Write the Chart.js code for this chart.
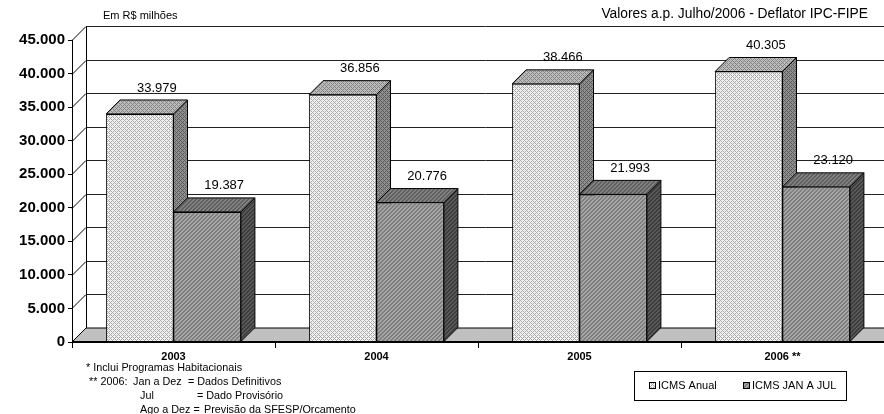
<!DOCTYPE html>
<html>
<head>
<meta charset="utf-8">
<script src="https://cdn.jsdelivr.net/npm/chart.js@4.4.0/dist/chart.umd.min.js"></script>
<style>
  html, body { margin: 0; padding: 0; background: #fff; }
  #wrap { width: 884px; height: 414px; position: relative; }
</style>
</head>
<body>
<div id="wrap"><canvas id="chart" width="884" height="414"></canvas></div>
<script>
const categories = ['2003', '2004', '2005', '2006 **'];
const icmsAnual = [33979, 36856, 38466, 40305];
const icmsJanJul = [19387, 20776, 21993, 23120];
const seriesNames = ['ICMS Anual', 'ICMS JAN A JUL'];
const yTicks = [0, 5000, 10000, 15000, 20000, 25000, 30000, 35000, 40000, 45000];

const FONT = "'Liberation Sans', Arial, sans-serif";
const depth = 14;

function fmt(v) {
  return String(v).replace(/\B(?=(\d{3})+(?!\d))/g, '.');
}

// small tiles for the hatch fills
function makePattern(bg, fg, kind) {
  const c = document.createElement('canvas');
  c.width = 4; c.height = 4;
  const g = c.getContext('2d');
  g.fillStyle = bg;
  g.fillRect(0, 0, 4, 4);
  g.fillStyle = fg;
  for (let i = 0; i < 4; i++) {
    for (let j = 0; j < 4; j++) {
      let on;
      if (kind === 'cross') on = (i + j) % 4 === 0 || (i - j + 4) % 4 === 0;
      else on = (i + j) % 4 === 0 || (i + j) % 4 === 1;
      if (on) g.fillRect(i, j, 1, 1);
    }
  }
  return g.createPattern(c, 'repeat');
}

const fills = {
  anual: { front: makePattern('#f2f2f2', '#a8a8a8', 'cross'), top: makePattern('#bcbcbc', '#848484', 'cross'), side: makePattern('#909090', '#5c5c5c', 'cross') },
  jan: { front: makePattern('#7e7e7e', '#a6a6a6', 'stripe'), top: makePattern('#5e5e5e', '#828282', 'stripe'), side: makePattern('#3c3c3c', '#5a5a5a', 'stripe') }
};
const faceSets = [fills.anual, fills.jan];

const threeD = {
  id: 'threeD',
  beforeDatasetsDraw(chart) {
    const { ctx, chartArea: a, scales: { y } } = chart;
    const y0 = y.getPixelForValue(0);
    ctx.save();
    ctx.lineWidth = 1;

    // back wall grid + left wall diagonals
    yTicks.forEach(v => {
      const py = Math.round(y.getPixelForValue(v)) + 0.5;
      if (v > 0) {
        ctx.strokeStyle = '#222';
        ctx.beginPath();
        ctx.moveTo(a.left + depth, py - depth);
        ctx.lineTo(a.right + depth, py - depth);
        ctx.stroke();
      }
      ctx.strokeStyle = '#000';
      ctx.beginPath();
      ctx.moveTo(a.left, py);
      ctx.lineTo(a.left + depth, py - depth);
      ctx.stroke();
    });
    ctx.strokeStyle = '#000';
    ctx.beginPath();
    ctx.moveTo(a.left + depth + 0.5, Math.round(y.getPixelForValue(45000)) - depth + 0.5);
    ctx.lineTo(a.left + depth + 0.5, Math.round(y0) - depth + 0.5);
    ctx.stroke();

    // floor
    ctx.fillStyle = '#c0c0c0';
    ctx.beginPath();
    ctx.moveTo(a.left, y0);
    ctx.lineTo(a.left + depth, y0 - depth);
    ctx.lineTo(a.right + depth, y0 - depth);
    ctx.lineTo(a.right, y0);
    ctx.closePath();
    ctx.fill();
    ctx.stroke();

    // top and side faces of the bars
    const metas = chart.data.datasets.map((d, i) => chart.getDatasetMeta(i));
    for (let j = 0; j < categories.length; j++) {
      metas.forEach((m, i) => {
        const p = m.data[j].getProps(['x', 'y', 'base', 'width'], true);
        const l = p.x - p.width / 2, r = p.x + p.width / 2;
        const t = p.y, b = p.base;
        ctx.fillStyle = faceSets[i].side;
        ctx.beginPath();
        ctx.moveTo(r, t); ctx.lineTo(r + depth, t - depth);
        ctx.lineTo(r + depth, b - depth); ctx.lineTo(r, b);
        ctx.closePath(); ctx.fill(); ctx.stroke();
        ctx.fillStyle = faceSets[i].top;
        ctx.beginPath();
        ctx.moveTo(l, t); ctx.lineTo(l + depth, t - depth);
        ctx.lineTo(r + depth, t - depth); ctx.lineTo(r, t);
        ctx.closePath(); ctx.fill(); ctx.stroke();
      });
    }
    ctx.restore();
  },
  afterDatasetsDraw(chart) {
    const { ctx, chartArea: a, scales: { y } } = chart;
    const y0 = y.getPixelForValue(0);
    ctx.save();
    // front floor edge
    ctx.strokeStyle = '#000';
    ctx.lineWidth = 2;
    ctx.beginPath();
    ctx.moveTo(a.left, Math.round(y0));
    ctx.lineTo(a.right, Math.round(y0));
    ctx.stroke();
    // value labels
    ctx.fillStyle = '#000';
    ctx.font = '13px ' + FONT;
    ctx.textAlign = 'center';
    ctx.textBaseline = 'middle';
    chart.data.datasets.forEach((ds, i) => {
      chart.getDatasetMeta(i).data.forEach((bar, j) => {
        const p = bar.getProps(['x', 'y'], true);
        ctx.fillText(fmt(ds.data[j]), p.x + 17, p.y - depth - 12);
      });
    });
    ctx.restore();
  },
  afterDraw(chart) {
    const ctx = chart.ctx;
    ctx.save();
    ctx.fillStyle = '#000';
    ctx.textBaseline = 'middle';
    ctx.font = '11px ' + FONT;
    ctx.textAlign = 'left';
    ctx.fillText('Em R$ milhões', 103, 16);
    ctx.font = '13.8px ' + FONT;
    ctx.textAlign = 'right';
    ctx.fillText('Valores a.p. Julho/2006 - Deflator IPC-FIPE', 868, 14);

    // notes
    ctx.font = '10.8px ' + FONT;
    ctx.textAlign = 'left';
    const notes = [
      ['* Inclui Programas Habitacionais', 86, 368],
      ['** 2006:', 89, 382], ['Jan a Dez', 133, 382], ['= Dados Definitivos', 188, 382],
      ['Jul', 140, 396], ['= Dado Provisório', 197, 396],
      ['Ago a Dez =', 140, 410], ['Previsão da SFESP/Orcamento', 204, 410]
    ];
    notes.forEach(n => ctx.fillText(n[0], n[1], n[2]));

    // legend
    ctx.strokeStyle = '#000';
    ctx.lineWidth = 1;
    ctx.strokeRect(634.5, 371.5, 212, 29);
    ctx.font = '11px ' + FONT;
    const items = [[649, seriesNames[0], fills.anual.front], [743, seriesNames[1], fills.jan.front]];
    items.forEach(it => {
      ctx.fillStyle = it[2];
      ctx.fillRect(it[0], 382, 7, 7);
      ctx.strokeRect(it[0] + 0.5, 382.5, 6, 6);
      ctx.fillStyle = '#000';
      ctx.fillText(it[1], it[0] + 9, 386);
    });
    ctx.restore();
  }
};

new Chart(document.getElementById('chart'), {
  type: 'bar',
  data: {
    labels: categories,
    datasets: [
      { label: seriesNames[0], data: icmsAnual, backgroundColor: fills.anual.front, borderColor: '#000', borderWidth: 1 },
      { label: seriesNames[1], data: icmsJanJul, backgroundColor: fills.jan.front, borderColor: '#000', borderWidth: 1 }
    ]
  },
  options: {
    responsive: false,
    animation: false,
    layout: { padding: { top: 40, right: 0, left: 0, bottom: 0 } },
    datasets: { bar: { categoryPercentage: 0.664, barPercentage: 1.0 } },
    plugins: { legend: { display: false }, tooltip: { enabled: false } },
    scales: {
      x: {
        afterFit: s => { s.height = 72; },
        grid: { offset: true, drawOnChartArea: false, tickLength: 6, color: '#000' },
        border: { display: false },
        ticks: { color: '#000', font: { family: FONT, size: 11, weight: 'bold' }, padding: 2 }
      },
      y: {
        min: 0,
        max: 45000,
        afterFit: s => { s.width = 72; },
        afterBuildTicks: s => { s.ticks = yTicks.map(v => ({ value: v })); },
        grid: { drawOnChartArea: false, tickLength: 4, color: '#000' },
        border: { display: true, color: '#000', width: 1 },
        ticks: { color: '#000', padding: 3, font: { family: FONT, size: 15, weight: 'bold' }, callback: v => fmt(v) }
      }
    }
  },
  plugins: [threeD]
});
</script>
</body>
</html>
